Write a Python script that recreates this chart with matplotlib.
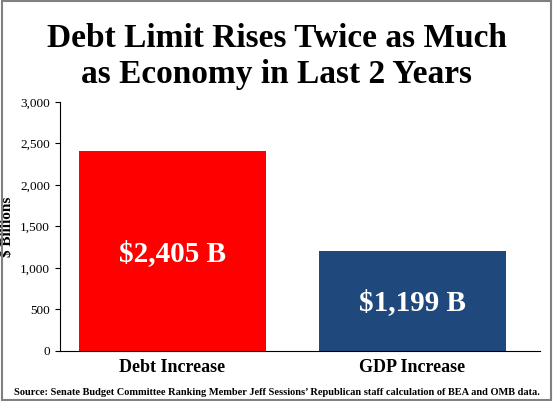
import matplotlib.pyplot as plt
from matplotlib.patches import Rectangle

categories = ["Debt Increase", "GDP Increase"]
values = [2405, 1199]
labels = ["$2,405 B", "$1,199 B"]
colors = ["#ff0000", "#1f497d"]
yticks = [0, 500, 1000, 1500, 2000, 2500, 3000]

plt.rcParams["font.family"] = ["Liberation Serif", "DejaVu Serif"]

fig = plt.figure(figsize=(5.53, 4.01), dpi=100)
fig.patches.append(Rectangle((0.003, 0.003), 0.994, 0.994, transform=fig.transFigure,
                             fill=False, edgecolor="#808080", linewidth=1.5))

ax = fig.add_axes([0.108, 0.125, 0.868, 0.621])
x = [i - 0.03 for i in range(len(categories))]
ax.bar(x, values, width=0.78, color=colors)
for xi, v, lab in zip(x, values, labels):
    ax.text(xi, v * 0.49, lab, color="white", fontsize=21, fontweight="bold",
            ha="center", va="center")

ax.set_xlim(-0.5, 1.5)
ax.set_ylim(0, 3000)
ax.set_yticks(yticks)
ax.set_yticklabels([f"{t:,}" for t in yticks], fontsize=9.5)
ax.set_xticks(x)
ax.set_xticklabels(categories, fontsize=13, fontweight="bold")
ax.tick_params(axis="x", length=0, pad=6)
ax.set_ylabel("$ Billions", fontsize=11, fontweight="bold")
for s in ["top", "right"]:
    ax.spines[s].set_visible(False)

fig.text(0.5, 0.905, "Debt Limit Rises Twice as Much", ha="center", va="center",
         fontsize=24, fontweight="bold")
fig.text(0.5, 0.815, "as Economy in Last 2 Years", ha="center", va="center",
         fontsize=24, fontweight="bold")
fig.text(0.5, 0.022, "Source: Senate Budget Committee Ranking Member Jeff Sessions\u2019 Republican staff calculation of BEA and OMB data.",
         ha="center", va="center", fontsize=7.5, fontweight="bold")

fig.savefig("out.png", dpi=100)
